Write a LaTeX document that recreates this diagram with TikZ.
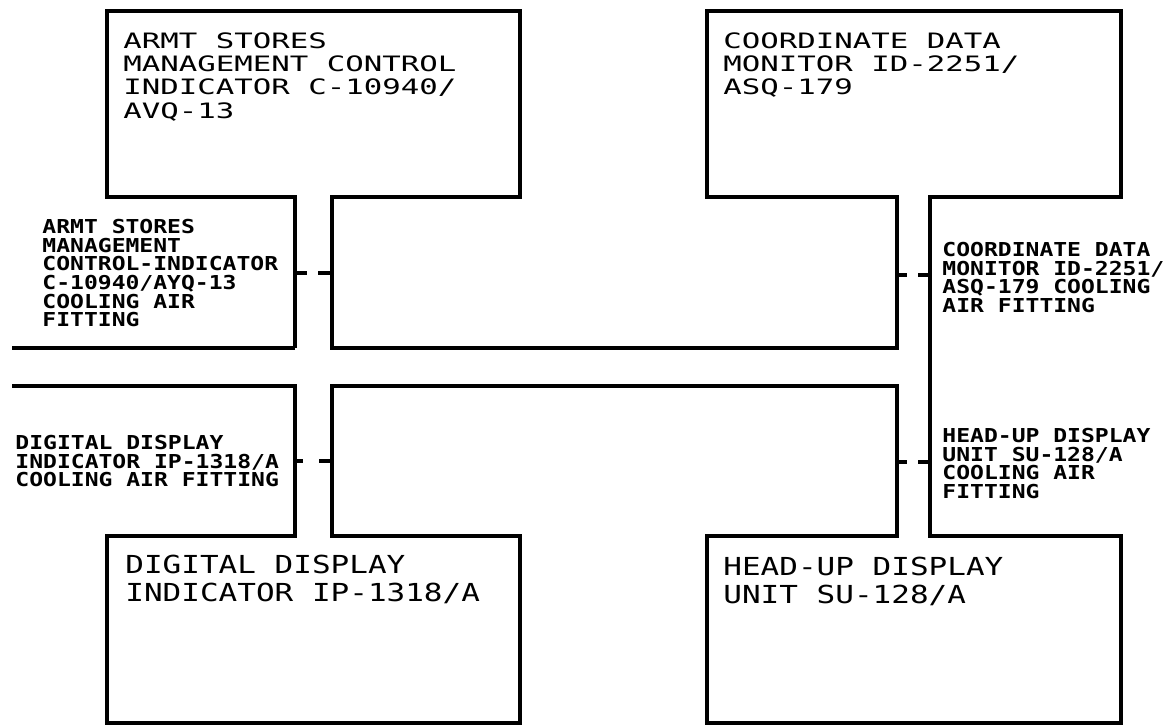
\documentclass[tikz,border=0pt]{standalone}
\usepackage{fontspec}
\newfontfamily\unitfont[FakeStretch=1.45]{DejaVu Sans Mono}
\newfontfamily\lowunitfont[FakeStretch=1.25]{DejaVu Sans Mono}
\newfontfamily\fitfont[FakeStretch=1.2]{DejaVu Sans Mono}
\tikzset{
	wall/.style={line width=1.6pt, line join=miter},
	unitlabel/.style={anchor=north west, inner sep=0pt, align=left, font=\unitfont\fontsize{10.6}{11.65}\selectfont},
	lowunitlabel/.style={unitlabel, font=\lowunitfont\fontsize{12.4}{14}\selectfont},
	fitlabel/.style={anchor=north west, inner sep=0pt, align=left, font=\fitfont\bfseries\fontsize{9.6}{9.3}\selectfont}
}

\begin{document}
\begin{tikzpicture}[x=0.5pt,y=-0.5pt]
			\useasboundingbox (0,0) rectangle (1171,725);
			\draw[wall](295,348) -- (295,197) -- (107,197) -- (107,11) -- (520,11) -- (520,197) -- (332,197) -- (332,348) -- (897,348) -- (897,197) -- (707,197) -- (707,11) -- (1121,11) -- (1121,197) -- (930,197) -- (930,536) -- (1121,536) -- (1121,723) -- (707,723) -- (707,536) -- (897,536) -- (897,386) -- (332,386) -- (332,536) -- (520,536) -- (520,723) -- (107,723) -- (107,536) -- (295,536) -- (295,386) -- (12,386);
			\draw[wall](12,348) -- (295,348);
			\draw[wall](295,273) -- (307,273);
			\draw[wall](318,273) -- (332,273);
			\draw[wall](295,461) -- (303,461);
			\draw[wall](319,461) -- (332,461);
			\draw[wall](897,275) -- (907,275);
			\draw[wall](918,275) -- (930,275);
			\draw[wall](897,462) -- (907,462);
			\draw[wall](918,462) -- (930,462);
			\node[unitlabel] (asmunit) at (123,32) {ARMT STORES\\MANAGEMENT CONTROL\\INDICATOR C-10940/\\AVQ-13};
			\node[unitlabel] (cdmunit) at (723,32) {COORDINATE DATA\\MONITOR ID-2251/\\ASQ-179};
			\node[lowunitlabel] (ddiunit) at (125,555) {DIGITAL DISPLAY\\INDICATOR IP-1318/A};
			\node[lowunitlabel] (hudunit) at (723,557) {HEAD-UP DISPLAY\\UNIT SU-128/A};
			\node[fitlabel] (asmfit) at (42,219) {ARMT STORES\\MANAGEMENT\\CONTROL-INDICATOR\\C-10940/AYQ-13\\COOLING AIR\\FITTING};
			\node[fitlabel] (ddifit) at (15,435) {DIGITAL DISPLAY\\INDICATOR IP-1318/A\\COOLING AIR FITTING};
			\node[fitlabel] (cdmfit) at (942,242) {COORDINATE DATA\\MONITOR ID-2251/\\ASQ-179 COOLING\\AIR FITTING};
			\node[fitlabel] (hudfit) at (942,428) {HEAD-UP DISPLAY\\UNIT SU-128/A\\COOLING AIR\\FITTING};
		\end{tikzpicture}
\end{document}
